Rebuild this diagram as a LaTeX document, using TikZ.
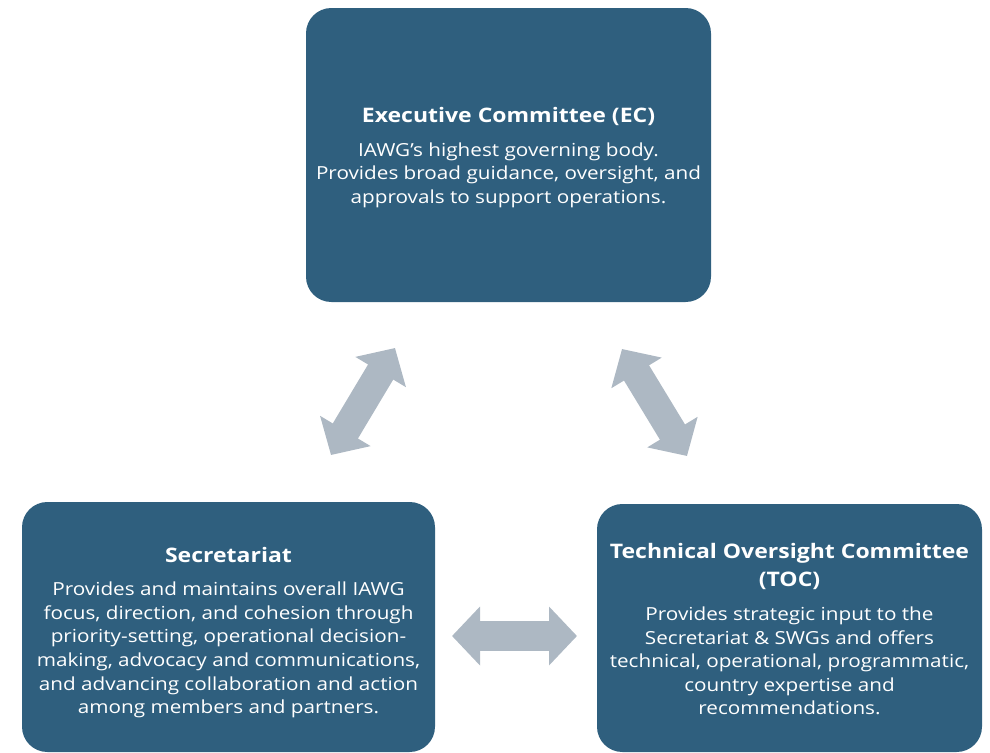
\documentclass[tikz,border=0pt]{standalone}
\usepackage{fontspec}
\setmainfont{Open Sans}[FakeStretch=1.15]
\usetikzlibrary{arrows.meta}
\definecolor{boxblue}{HTML}{2F5F7E}
\definecolor{arrowgray}{HTML}{ADB8C3}
\begin{document}
\begin{tikzpicture}[x=0.75pt,y=-0.75pt,
  card/.style={fill=boxblue, rounded corners=19pt, inner sep=0pt},
  ttl/.style={text=white, align=center, inner sep=0pt, font=\fontsize{15}{20.3}\selectfont\bfseries},
  body/.style={text=white, align=center, inner sep=0pt, font=\fontsize{13.5}{17.7}\selectfont},
  blockarrow/.style={draw=arrowgray, line width=22pt,
    {Triangle[length=21pt,width=43pt]}-{Triangle[length=21pt,width=43pt]}}
]
\useasboundingbox (0,0) rectangle (990,753);

% boxes
\node[card, minimum width=303.75pt, minimum height=220.5pt] (ec) at (508.5,155) {};
\node[card, minimum width=309.75pt, minimum height=187.5pt] (sec) at (228.5,627) {};
\node[card, minimum width=288.75pt, minimum height=186pt] (toc) at (789.5,628) {};

% texts
\node[ttl] (ect) at (508.5,116) {Executive Committee (EC)};
\node[body] (ecb) at (508.5,175) {IAWG’s highest governing body.\\Provides broad guidance, oversight, and\\approvals to support operations.};

\node[ttl] (sect) at (228.5,555) {Secretariat};
\node[body] (secb) at (228.5,650) {Provides and maintains overall IAWG\\focus, direction, and cohesion through\\priority-setting, operational decision-\\making, advocacy and communications,\\and advancing collaboration and action\\among members and partners.};

\node[ttl] (toct) at (789.5,566.5) {Technical Oversight Committee\\(TOC)};
\node[body] (tocb) at (789.5,661) {Provides strategic input to the\\Secretariat \& SWGs and offers\\technical, operational, programmatic,\\country expertise and\\recommendations.};

% arrow end points
\coordinate (a1s) at (331,455);
\coordinate (a1e) at (395,348);
\coordinate (a2s) at (622,349);
\coordinate (a2e) at (687,456);
\coordinate (a3s) at (452,636);
\coordinate (a3e) at (577,636);

\draw[blockarrow] (a1s) -- (a1e);
\draw[blockarrow] (a2s) -- (a2e);
\draw[blockarrow] (a3s) -- (a3e);
\end{tikzpicture}
\end{document}
